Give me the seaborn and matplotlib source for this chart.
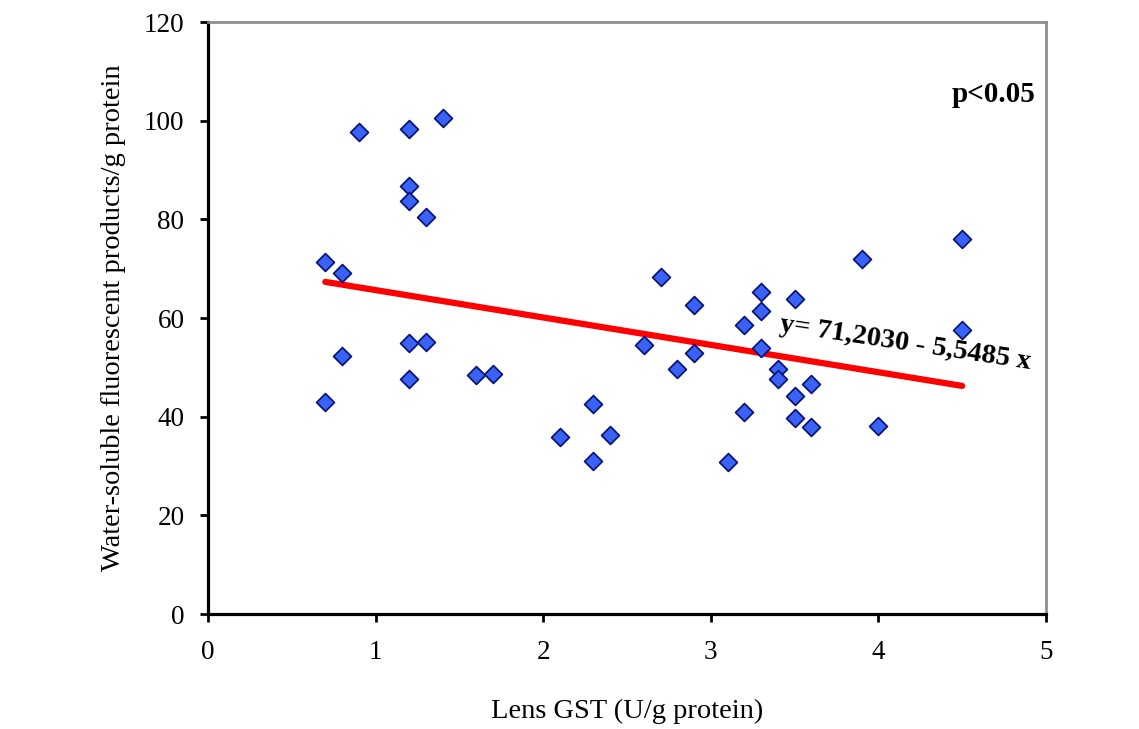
import matplotlib
matplotlib.use("Agg")
import matplotlib.pyplot as plt
import seaborn as sns
import numpy as np
import pandas as pd

# ---- data ----
gst = [0.7, 0.7, 0.8, 0.8, 0.9, 1.2, 1.2, 1.2, 1.2, 1.2, 1.3, 1.3, 1.4, 1.6, 1.7,
       2.1, 2.3, 2.3, 2.4, 2.6, 2.7, 2.8, 2.9, 2.9, 3.1, 3.2, 3.2, 3.3, 3.3, 3.3,
       3.4, 3.4, 3.5, 3.5, 3.5, 3.6, 3.6, 3.9, 4.0, 4.5, 4.5]
fluor = [71.4, 43.0, 69.1, 52.2, 97.8, 98.4, 86.8, 83.8, 55.0, 47.6, 80.5, 55.1, 100.5, 48.4, 48.7,
         35.9, 42.6, 31.0, 36.3, 54.6, 68.3, 49.7, 62.6, 53.0, 30.8, 58.6, 41.0, 65.3, 61.5, 54.0,
         49.7, 47.6, 63.8, 44.2, 39.7, 46.6, 38.0, 71.9, 38.1, 76.1, 57.6]
intercept = 71.2030
slope = -5.5485
x_ticks = [0, 1, 2, 3, 4, 5]
y_ticks = [0, 20, 40, 60, 80, 100, 120]
equation_label = "y= 71,2030 - 5,5485 x"
p_label = "p<0.05"
x_title = "Lens GST (U/g protein)"
y_title = "Water-soluble fluorescent products/g protein"

df = pd.DataFrame({"gst": gst, "fluor": fluor})
line_x = np.array([min(gst), max(gst)])
line_df = pd.DataFrame({"gst": line_x, "fit": intercept + slope * line_x})

sns.set_theme(style="white")
plt.rcParams["font.family"] = ["Liberation Serif", "DejaVu Serif"]

fig = plt.figure(figsize=(11.39, 7.29), dpi=100)
ax = fig.add_axes([208 / 1139, 1 - 614 / 729, (1046 - 208) / 1139, (614 - 22) / 729])

sns.lineplot(data=line_df, x="gst", y="fit", ax=ax, color="#FF0000", linewidth=4.5,
             solid_capstyle="round", zorder=2)
sns.scatterplot(data=df, x="gst", y="fluor", ax=ax, marker="D", s=82,
                color="#3A62F6", edgecolor="#0A1678", linewidth=1.3, zorder=3)

ax.set_xlim(0, 5)
ax.set_ylim(0, 120)
ax.set_xticks(x_ticks)
ax.set_yticks(y_ticks)
ax.set_xticklabels([str(v) for v in x_ticks])
ax.set_yticklabels([str(v) for v in y_ticks])

for side in ["left", "bottom"]:
    ax.spines[side].set_color("black")
    ax.spines[side].set_linewidth(2.3)
for side in ["top", "right"]:
    ax.spines[side].set_color("#8A8A8A")
    ax.spines[side].set_linewidth(1.9)

ax.tick_params(axis="both", direction="out", length=6, width=2, color="black",
               labelsize=19.5, labelcolor="black")
ax.tick_params(axis="y", pad=11, left=True)
ax.tick_params(axis="x", pad=13, bottom=True)

ax.set_xlabel(x_title, fontsize=20.5, labelpad=24, color="black")
ax.set_ylabel(y_title, fontsize=20.5, labelpad=12.5, color="black")

ax.text(4.16, 54.9, equation_label, fontsize=20.5, fontweight="bold", color="black",
        rotation=-8.6, ha="center", va="center", rotation_mode="anchor", zorder=4)
ax.text(4.935, 105.4, p_label, fontsize=21, fontweight="bold", color="black",
        ha="right", va="center")

fig.savefig("out.png", dpi=100, facecolor="white")
